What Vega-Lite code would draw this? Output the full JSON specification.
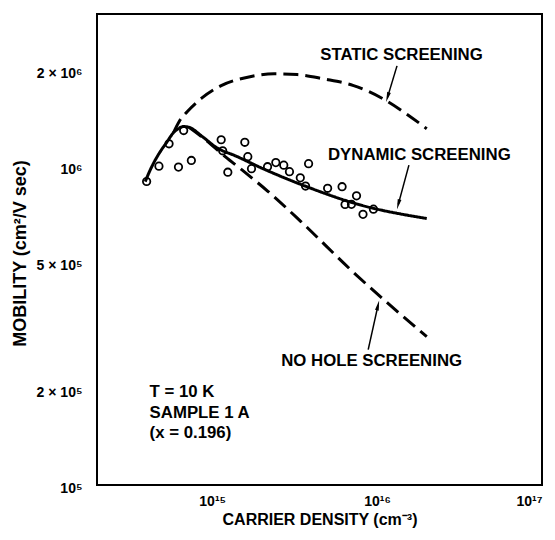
{
  "$schema": "https://vega.github.io/schema/vega-lite/v6.json",
  "width": 445,
  "height": 471,
  "autosize": {"type": "none"},
  "padding": {"left": 97, "top": 14, "right": 13, "bottom": 55},
  "background": "white",
  "config": {
    "view": {"stroke": "black", "strokeWidth": 2},
    "font": "Liberation Sans",
    "axis": {
      "grid": false,
      "domain": false,
      "ticks": false,
      "labelColor": "black",
      "labelFont": "Liberation Sans",
      "labelFontWeight": "bold",
      "labelFontSize": 14,
      "titleColor": "black",
      "titleFont": "Liberation Sans",
      "titleFontWeight": "bold",
      "titleFontSize": 16
    }
  },
  "datasets": {
    "points": [
      {"density": 4.0e14, "mobility": 8.95e5},
      {"density": 4.75e14, "mobility": 1.0e6},
      {"density": 5.47e14, "mobility": 1.175e6},
      {"density": 6.24e14, "mobility": 9.93e5},
      {"density": 6.71e14, "mobility": 1.293e6},
      {"density": 7.47e14, "mobility": 1.042e6},
      {"density": 1.133e15, "mobility": 1.21e6},
      {"density": 1.157e15, "mobility": 1.117e6},
      {"density": 1.243e15, "mobility": 9.57e5},
      {"density": 1.576e15, "mobility": 1.188e6},
      {"density": 1.643e15, "mobility": 1.071e6},
      {"density": 1.73e15, "mobility": 9.82e5},
      {"density": 2.165e15, "mobility": 9.96e5},
      {"density": 2.43e15, "mobility": 1.026e6},
      {"density": 2.715e15, "mobility": 1.007e6},
      {"density": 2.94e15, "mobility": 9.61e5},
      {"density": 3.84e15, "mobility": 1.018e6},
      {"density": 3.42e15, "mobility": 9.19e5},
      {"density": 3.68e15, "mobility": 8.66e5},
      {"density": 5.01e15, "mobility": 8.52e5},
      {"density": 6.13e15, "mobility": 8.62e5},
      {"density": 6.39e15, "mobility": 7.58e5},
      {"density": 6.99e15, "mobility": 7.59e5},
      {"density": 7.5e15, "mobility": 8.07e5},
      {"density": 8.21e15, "mobility": 7.06e5},
      {"density": 9.5e15, "mobility": 7.33e5}
    ],
    "curves": [
      {"series": "dynamic", "density": 3.922e14, "mobility": 8.938e5},
      {"series": "dynamic", "density": 4.173e14, "mobility": 9.644e5},
      {"series": "dynamic", "density": 4.474e14, "mobility": 1.0369e6},
      {"series": "dynamic", "density": 4.861e14, "mobility": 1.1147e6},
      {"series": "dynamic", "density": 5.283e14, "mobility": 1.1854e6},
      {"series": "dynamic", "density": 5.823e14, "mobility": 1.2743e6},
      {"series": "dynamic", "density": 6.241e14, "mobility": 1.3119e6},
      {"series": "dynamic", "density": 6.688e14, "mobility": 1.3311e6},
      {"series": "dynamic", "density": 7.267e14, "mobility": 1.3216e6},
      {"series": "dynamic", "density": 8.83e14, "mobility": 1.231e6},
      {"series": "dynamic", "density": 1.057e15, "mobility": 1.145e6},
      {"series": "dynamic", "density": 1.395e15, "mobility": 1.075e6},
      {"series": "dynamic", "density": 2.058e15, "mobility": 9.79e5},
      {"series": "dynamic", "density": 3.68e15, "mobility": 8.65e5},
      {"series": "dynamic", "density": 7.68e15, "mobility": 7.59e5},
      {"series": "dynamic", "density": 2.0e16, "mobility": 6.85e5},
      {"series": "static", "density": 5.823e14, "mobility": 1.2743e6},
      {"series": "static", "density": 6.328e14, "mobility": 1.3854e6},
      {"series": "static", "density": 7.068e14, "mobility": 1.4834e6},
      {"series": "static", "density": 8.585e14, "mobility": 1.6306e6},
      {"series": "static", "density": 1.133e15, "mobility": 1.789e6},
      {"series": "static", "density": 1.641e15, "mobility": 1.901e6},
      {"series": "static", "density": 2.373e15, "mobility": 1.947e6},
      {"series": "static", "density": 3.28e15, "mobility": 1.937e6},
      {"series": "static", "density": 4.75e15, "mobility": 1.877e6},
      {"series": "static", "density": 7.2e15, "mobility": 1.789e6},
      {"series": "static", "density": 1.091e16, "mobility": 1.624e6},
      {"series": "static", "density": 1.51e16, "mobility": 1.457e6},
      {"series": "static", "density": 2.0e16, "mobility": 1.31e6},
      {"series": "nohole", "density": 7.267e14, "mobility": 1.3216e6},
      {"series": "nohole", "density": 8.83e14, "mobility": 1.2249e6},
      {"series": "nohole", "density": 1.198e15, "mobility": 1.0712e6},
      {"series": "nohole", "density": 1.548e15, "mobility": 9.644e5},
      {"series": "nohole", "density": 2.175e15, "mobility": 8.34e5},
      {"series": "nohole", "density": 3.437e15, "mobility": 6.714e5},
      {"series": "nohole", "density": 7.07e15, "mobility": 4.68e5},
      {"series": "nohole", "density": 2.0e16, "mobility": 2.92e5}
    ],
    "curveLabels": [
      {"text": "STATIC SCREENING", "density": 1.405e16, "mobility": 2.226e6},
      {"text": "DYNAMIC SCREENING", "density": 1.803e16, "mobility": 1.087e6},
      {"text": "NO HOLE SCREENING", "density": 9.26e15, "mobility": 2.445e5}
    ],
    "sampleLabels": [
      {"text": "T = 10 K", "density": 4.17e14, "mobility": 1.961e5},
      {"text": "SAMPLE 1 A", "density": 4.17e14, "mobility": 1.684e5},
      {"text": "(x = 0.196)", "density": 4.17e14, "mobility": 1.457e5}
    ],
    "arrows": [
      {"label": "static", "density": 1.32e16, "mobility": 2.063e6, "density2": 1.157e16, "mobility2": 1.646e6},
      {"label": "dynamic", "density": 1.559e16, "mobility": 1.007e6, "density2": 1.344e16, "mobility2": 7.585e5},
      {"label": "nohole", "density": 8.83e15, "mobility": 2.658e5, "density2": 1.0125e16, "mobility2": 3.658e5}
    ],
    "heads": [
      {"label": "static", "density": 1.157e16, "mobility": 1.646e6},
      {"label": "dynamic", "density": 1.344e16, "mobility": 7.585e5},
      {"label": "nohole", "density": 1.0125e16, "mobility": 3.658e5}
    ],
    "xticks": [
      {"density": 3e14, "kind": "minor"}, {"density": 4e14, "kind": "minor"}, {"density": 5e14, "kind": "minor"},
      {"density": 6e14, "kind": "minor"}, {"density": 7e14, "kind": "minor"}, {"density": 8e14, "kind": "minor"},
      {"density": 9e14, "kind": "minor"}, {"density": 1e15, "kind": "major"},
      {"density": 2e15, "kind": "minor"}, {"density": 3e15, "kind": "minor"}, {"density": 4e15, "kind": "minor"},
      {"density": 5e15, "kind": "minor"}, {"density": 6e15, "kind": "minor"}, {"density": 7e15, "kind": "minor"},
      {"density": 8e15, "kind": "minor"}, {"density": 9e15, "kind": "minor"}, {"density": 1e16, "kind": "major"},
      {"density": 2e16, "kind": "minor"}, {"density": 3e16, "kind": "minor"}, {"density": 4e16, "kind": "minor"},
      {"density": 5e16, "kind": "minor"}, {"density": 6e16, "kind": "minor"}, {"density": 7e16, "kind": "minor"},
      {"density": 8e16, "kind": "minor"}, {"density": 9e16, "kind": "minor"}
    ],
    "yticks": [
      {"mobility": 2e5, "kind": "major"}, {"mobility": 3e5, "kind": "minor"}, {"mobility": 4e5, "kind": "minor"},
      {"mobility": 5e5, "kind": "major"}, {"mobility": 6e5, "kind": "minor"}, {"mobility": 7e5, "kind": "minor"},
      {"mobility": 8e5, "kind": "minor"}, {"mobility": 9e5, "kind": "minor"}, {"mobility": 1e6, "kind": "major"},
      {"mobility": 2e6, "kind": "major"}
    ]
  },
  "encoding": {
    "x": {
      "field": "density", "type": "quantitative",
      "scale": {"type": "log", "domain": [2e14, 1e17], "nice": false},
      "axis": {
        "orient": "bottom",
        "values": [2e14, 1e15, 1e16, 1e17],
        "ticks": false,
        "labelExpr": "datum.value == 1e15 ? '10¹⁵' : datum.value == 1e16 ? '10¹⁶' : datum.value == 1e17 ? '10¹⁷' : ''",
        "labelPadding": 9,
        "labelFlush": true,
        "labelOverlap": false,
        "title": "CARRIER DENSITY (cm⁻³)",
        "titleX": 222.5,
        "titleY": 34,
        "titleBaseline": "middle",
        "titleAlign": "center"
      }
    },
    "y": {
      "field": "mobility", "type": "quantitative",
      "scale": {"type": "log", "domain": [1e5, 3e6], "nice": false},
      "axis": {
        "orient": "left",
        "values": [1e5, 2e5, 5e5, 1e6, 2e6],
        "ticks": false,
        "labelExpr": "datum.value == 1e5 ? '10⁵' : datum.value == 2e5 ? '2 × 10⁵' : datum.value == 5e5 ? '5 × 10⁵' : datum.value == 1e6 ? '10⁶' : datum.value == 2e6 ? '2 × 10⁶' : ''",
        "labelPadding": 15,
        "labelOffset": 3,
        "labelOverlap": false,
        "title": "MOBILITY (cm²/V sec)",
        "titleFontSize": 18,
        "titleX": -77,
        "titleY": 239,
        "titleBaseline": "middle",
        "titleAlign": "center"
      }
    }
  },
  "layer": [
    {
      "data": {"name": "points"},
      "mark": {"type": "point", "shape": "circle", "filled": false, "stroke": "black", "strokeWidth": 1.8, "size": 55, "opacity": 1}
    },
    {
      "data": {"name": "curves"},
      "mark": {"type": "line", "color": "black", "strokeWidth": 3, "interpolate": "monotone", "strokeCap": "butt"},
      "encoding": {
        "strokeDash": {
          "field": "series", "type": "nominal",
          "scale": {"domain": ["dynamic", "static", "nohole"], "range": [[1, 0], [15, 7], [15, 7]]},
          "legend": null
        }
      }
    },
    {
      "data": {"name": "curveLabels"},
      "mark": {"type": "text", "align": "center", "baseline": "middle", "font": "Liberation Sans", "fontWeight": "bold", "fontSize": 16.8, "color": "black"},
      "encoding": {"text": {"field": "text", "type": "nominal"}}
    },
    {
      "data": {"name": "sampleLabels"},
      "mark": {"type": "text", "align": "left", "baseline": "middle", "font": "Liberation Sans", "fontWeight": "bold", "fontSize": 16.8, "color": "black"},
      "encoding": {"text": {"field": "text", "type": "nominal"}}
    },
    {
      "data": {"name": "arrows"},
      "mark": {"type": "rule", "color": "black", "strokeWidth": 1.5},
      "encoding": {"x2": {"field": "density2"}, "y2": {"field": "mobility2"}}
    },
    {
      "data": {"name": "heads"},
      "transform": [{"filter": "datum.label == 'static'"}],
      "mark": {"type": "point", "shape": "M0,-1L0.38,1L-0.38,1Z", "filled": true, "color": "black", "size": 100, "opacity": 1, "angle": 197}
    },
    {
      "data": {"name": "heads"},
      "transform": [{"filter": "datum.label == 'dynamic'"}],
      "mark": {"type": "point", "shape": "M0,-1L0.38,1L-0.38,1Z", "filled": true, "color": "black", "size": 100, "opacity": 1, "angle": 195}
    },
    {
      "data": {"name": "heads"},
      "transform": [{"filter": "datum.label == 'nohole'"}],
      "mark": {"type": "point", "shape": "M0,-1L0.38,1L-0.38,1Z", "filled": true, "color": "black", "size": 100, "opacity": 1, "angle": 13}
    },
    {
      "data": {"name": "xticks"},
      "transform": [{"filter": "datum.kind == 'major'"}],
      "mark": {"type": "tick", "orient": "vertical", "color": "black", "opacity": 1, "size": 15, "thickness": 1.6, "yOffset": -7.5},
      "encoding": {"y": {"datum": 100000, "type": "quantitative"}}
    },
    {
      "data": {"name": "xticks"},
      "transform": [{"filter": "datum.kind == 'minor'"}],
      "mark": {"type": "tick", "orient": "vertical", "color": "black", "opacity": 1, "size": 8, "thickness": 1.6, "yOffset": -4},
      "encoding": {"y": {"datum": 100000, "type": "quantitative"}}
    },
    {
      "data": {"name": "xticks"},
      "transform": [{"filter": "datum.kind == 'major'"}],
      "mark": {"type": "tick", "orient": "vertical", "color": "black", "opacity": 1, "size": 15, "thickness": 1.6, "yOffset": 7.5},
      "encoding": {"y": {"datum": 3000000, "type": "quantitative"}}
    },
    {
      "data": {"name": "xticks"},
      "transform": [{"filter": "datum.kind == 'minor'"}],
      "mark": {"type": "tick", "orient": "vertical", "color": "black", "opacity": 1, "size": 8, "thickness": 1.6, "yOffset": 4},
      "encoding": {"y": {"datum": 3000000, "type": "quantitative"}}
    },
    {
      "data": {"name": "yticks"},
      "transform": [{"filter": "datum.kind == 'major'"}],
      "mark": {"type": "tick", "orient": "horizontal", "color": "black", "opacity": 1, "size": 15, "thickness": 1.6, "xOffset": 7.5},
      "encoding": {"x": {"datum": 200000000000000, "type": "quantitative"}}
    },
    {
      "data": {"name": "yticks"},
      "transform": [{"filter": "datum.kind == 'minor'"}],
      "mark": {"type": "tick", "orient": "horizontal", "color": "black", "opacity": 1, "size": 8, "thickness": 1.6, "xOffset": 4},
      "encoding": {"x": {"datum": 200000000000000, "type": "quantitative"}}
    },
    {
      "data": {"name": "yticks"},
      "transform": [{"filter": "datum.kind == 'major'"}],
      "mark": {"type": "tick", "orient": "horizontal", "color": "black", "opacity": 1, "size": 15, "thickness": 1.6, "xOffset": -7.5},
      "encoding": {"x": {"datum": 100000000000000000, "type": "quantitative"}}
    },
    {
      "data": {"name": "yticks"},
      "transform": [{"filter": "datum.kind == 'minor'"}],
      "mark": {"type": "tick", "orient": "horizontal", "color": "black", "opacity": 1, "size": 8, "thickness": 1.6, "xOffset": -4},
      "encoding": {"x": {"datum": 100000000000000000, "type": "quantitative"}}
    }
  ]
}
